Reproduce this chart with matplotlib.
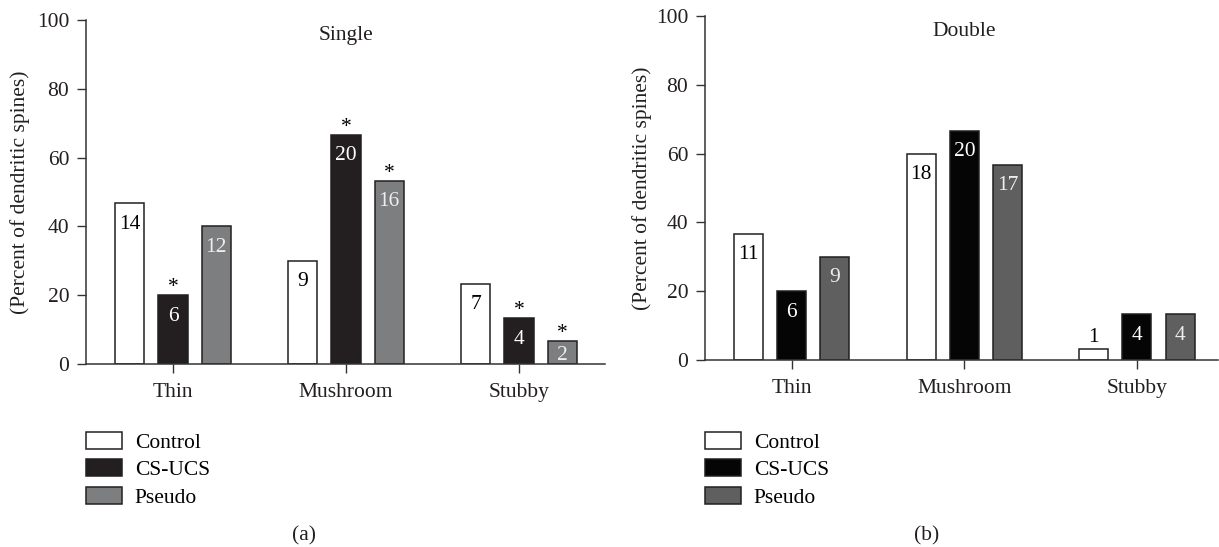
import numpy as np
import matplotlib
matplotlib.use("Agg")
import matplotlib.pyplot as plt
from matplotlib.patches import Patch

plt.rcParams['font.family'] = ['Liberation Serif', 'DejaVu Serif']
plt.rcParams['font.size'] = 15.5

# spine types and groups
categories = ['Thin', 'Mushroom', 'Stubby']
groups = ['Control', 'CS-UCS', 'Pseudo']

# percent of dendritic spines
single_pct = {'Control': [46.7, 30.0, 23.3],
              'CS-UCS': [20.0, 66.7, 13.3],
              'Pseudo': [40.0, 53.3, 6.7]}
double_pct = {'Control': [36.7, 60.0, 3.3],
              'CS-UCS': [20.0, 66.7, 13.3],
              'Pseudo': [30.0, 56.7, 13.3]}

# spine counts written inside the bars
single_n = {'Control': [14, 9, 7], 'CS-UCS': [6, 20, 4], 'Pseudo': [12, 16, 2]}
double_n = {'Control': [11, 18, 1], 'CS-UCS': [6, 20, 4], 'Pseudo': [9, 17, 4]}

# significance stars (single panel only)
single_star = {'Control': [False, False, False],
               'CS-UCS': [True, True, True],
               'Pseudo': [False, True, True]}
double_star = {'Control': [False, False, False],
               'CS-UCS': [False, False, False],
               'Pseudo': [False, False, False]}

edge = '#231f20'
colors_a = {'Control': 'white', 'CS-UCS': '#231f20', 'Pseudo': '#7d7e80'}
colors_b = {'Control': 'white', 'CS-UCS': '#050505', 'Pseudo': '#5e5f5e'}
txt_a = {'Control': 'black', 'CS-UCS': 'white', 'Pseudo': '#eeeeee'}
txt_b = {'Control': 'black', 'CS-UCS': 'white', 'Pseudo': '#eeeeee'}

W, H = 1219, 547
fig = plt.figure(figsize=(W / 100, H / 100), dpi=100)

ax_a = fig.add_axes([86 / W, 1 - 364 / H, (605 - 86) / W, 344 / H])
ax_b = fig.add_axes([705 / W, 1 - 360 / H, (1218 - 705) / W, 344 / H])

px_per_unit = 344 / 100.0
width = 0.168
step = 0.25
x = np.arange(len(categories))


def draw(ax, pct, counts, stars, colors, txtc, title, xmax, labx, legx, panel, panx):
    for i, g in enumerate(groups):
        pos = x + (i - 1) * step
        vals = pct[g]
        ax.bar(pos, vals, width, color=colors[g], edgecolor=edge, linewidth=1.1,
               label=g, zorder=2)
        for p, v, n, s in zip(pos, vals, counts[g], stars[g]):
            hpx = v * px_per_unit
            if hpx < 15:
                ax.annotate(str(n), (p, v), xytext=(0, 11), textcoords='offset pixels',
                            ha='center', va='center', color='black')
            else:
                off = min(21, hpx - 8)
                ax.annotate(str(n), (p, v), xytext=(0, -off), textcoords='offset pixels',
                            ha='center', va='center', color=txtc[g])
            if s:
                ax.annotate('*', (p, v), xytext=(0, -2), textcoords='offset pixels',
                            ha='center', va='bottom', color='black', fontsize=15.5)

    ax.set_xlim(-0.503, xmax)
    ax.set_ylim(0, 100)
    ax.set_yticks([0, 20, 40, 60, 80, 100])
    ax.set_xticks(x)
    ax.set_xticklabels(categories)
    for sp in ['top', 'right']:
        ax.spines[sp].set_visible(False)
    for sp in ['left', 'bottom']:
        ax.spines[sp].set_color('#333333')
        ax.spines[sp].set_linewidth(1.1)
    ax.tick_params(axis='both', direction='out', length=6.5, width=1.0,
                   color='#333333', labelcolor='#231f20')
    ax.tick_params(axis='y', pad=5.5)
    ax.tick_params(axis='x', pad=7)
    ax.set_ylabel('(Percent of dendritic spines)', color='#231f20')
    ax.yaxis.set_label_coords(labx, 0.5)
    ax.text(1, 95.6, title, ha='center', va='center', color='#231f20')

    handles = [Patch(facecolor=colors[g], edgecolor=edge, linewidth=1.1, label=g)
               for g in groups]
    fig.legend(handles=handles, loc='upper left', frameon=False,
               bbox_to_anchor=(legx / W, 1 - 432 / H), borderpad=0,
               borderaxespad=0, handlelength=1.67, handleheight=0.84,
               handletextpad=0.6, labelspacing=0.3, fontsize=15.5)
    fig.text(panx / W, 1 - 536 / H, panel, ha='center', va='center',
             color='#231f20', fontsize=15.5)


draw(ax_a, single_pct, single_n, single_star, colors_a, txt_a, 'Single', 2.497, -0.107, 86, '(a)', 304)
draw(ax_b, double_pct, double_n, double_star, colors_b, txt_b, 'Double', 2.47, -0.103, 705, '(b)', 927)

fig.savefig('out.png', dpi=100)
